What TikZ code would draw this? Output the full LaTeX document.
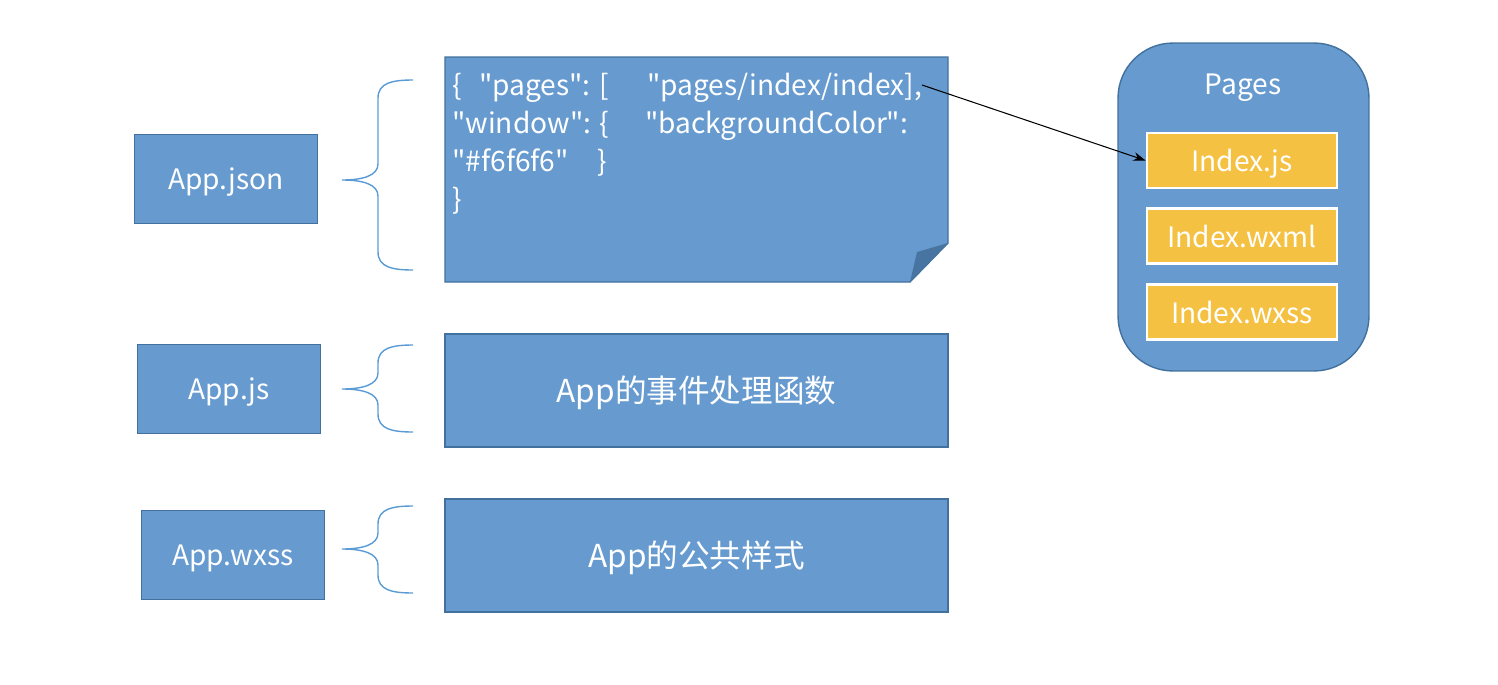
\documentclass[tikz,border=0pt]{standalone}
\usepackage{fontspec}
\setmainfont{Noto Sans CJK SC}
\newfontfamily\codefont{Noto Sans CJK SC}
\usetikzlibrary{positioning,arrows.meta}
\definecolor{boxblue}{RGB}{103,155,208}
\definecolor{boxline}{RGB}{65,113,156}
\definecolor{foldblue}{RGB}{72,116,162}
\definecolor{fileyellow}{RGB}{245,193,66}
\definecolor{bracecol}{RGB}{91,155,213}

% curly brace opening to the right: tip x, top y, middle y, bottom y
\newcommand{\filebrace}[4]{%
  \draw[brace] ({#1+71},#2) .. controls ({#1+50},#2) and ({#1+36},{#2+3}) .. ({#1+36},{#2+18})
    -- ({#1+36},{#3-16}) .. controls ({#1+36},{#3-4}) and ({#1+20},#3) .. (#1,#3)
    .. controls ({#1+20},#3) and ({#1+36},{#3+4}) .. ({#1+36},{#3+16})
    -- ({#1+36},{#4-18}) .. controls ({#1+36},{#4-3}) and ({#1+50},#4) .. ({#1+71},#4);}
% fixed-width piece of a code line
\newcommand{\codecol}[2]{\makebox[#1][l]{#2}}

\begin{document}
\begin{tikzpicture}[
    x=0.02cm, y=-0.02cm,
    node distance=0.36cm,
    label text/.style={text=white, text height=12.5pt, text depth=0pt, font=\fontsize{16}{19}\selectfont},
    file/.style={rectangle, draw=boxline, fill=boxblue, line width=0.8pt, label text,
        minimum width=3.66cm, minimum height=1.78cm},
    desc/.style={rectangle, draw=boxline, fill=boxblue, line width=0.8pt, label text,
        text height=14pt, font=\fontsize{18}{21}\selectfont,
        minimum width=10.06cm, minimum height=2.26cm},
    code/.style={text=white, align=left, inner sep=0pt, font=\codefont\fontsize{16}{21.6}\selectfont},
    pagebox/.style={rectangle, rounded corners=1.1cm, draw=boxline, fill=boxblue, line width=0.8pt,
        minimum width=5.02cm, minimum height=6.56cm},
    page/.style={rectangle, draw=white, line width=1.6pt, fill=fileyellow, label text,
        minimum width=3.8cm, minimum height=1.1cm},
    brace/.style={draw=bracecol, line width=0.8pt},
    arrow/.style={-{Stealth[length=7pt, width=5pt]}, black, line width=0.6pt}
]
    \useasboundingbox (0,0) rectangle (1498,684);

    % files of the app
    \node[file] (appjson) at (226,179) {App.json};
    \node[file] (appjs) at (229,389) {App.js};
    \node[file] (appwxss) at (233,555) {App.wxss};

    \filebrace{342}{80}{180}{270}
    \filebrace{342}{345}{389}{432}
    \filebrace{342}{506}{549}{593}

    % app.json content, note with folded corner
    \fill[boxblue, draw=boxline, line width=0.8pt] (445,57) -- (948,57) -- (948,243) -- (910,282) -- (445,282) -- cycle;
    \fill[foldblue] (948,243) -- (917,252) -- (910,282) -- cycle;
    \node[code, anchor=north west] (jsontext) at (452,73)
        {\codecol{0.54cm}{\{}\codecol{3.36cm}{"pages": [}"pages/index/index],\\
         \codecol{3.86cm}{"window": \{}"backgroundColor":\\
         \codecol{2.9cm}{"\#f6f6f6"}\}\\
         \}};
    \coordinate (jsonend) at (922,85);

    \node[desc] (events) at (696.5,390.5) {App的事件处理函数};
    \node[desc] (styles) at (696.5,555.5) {App的公共样式};

    % pages folder
    \node[pagebox] (pages) at (1243.5,207) {};
    \node[label text] (pagestitle) at (1243,84) {Pages};
    \node[page] (idxjs) at (1242,160.5) {Index.js};
    \node[page, below=of idxjs] (idxwxml) {Index.wxml};
    \node[page, below=of idxwxml] (idxwxss) {Index.wxss};

    \draw[arrow] (jsonend) -- (idxjs.west);
\end{tikzpicture}
\end{document}
